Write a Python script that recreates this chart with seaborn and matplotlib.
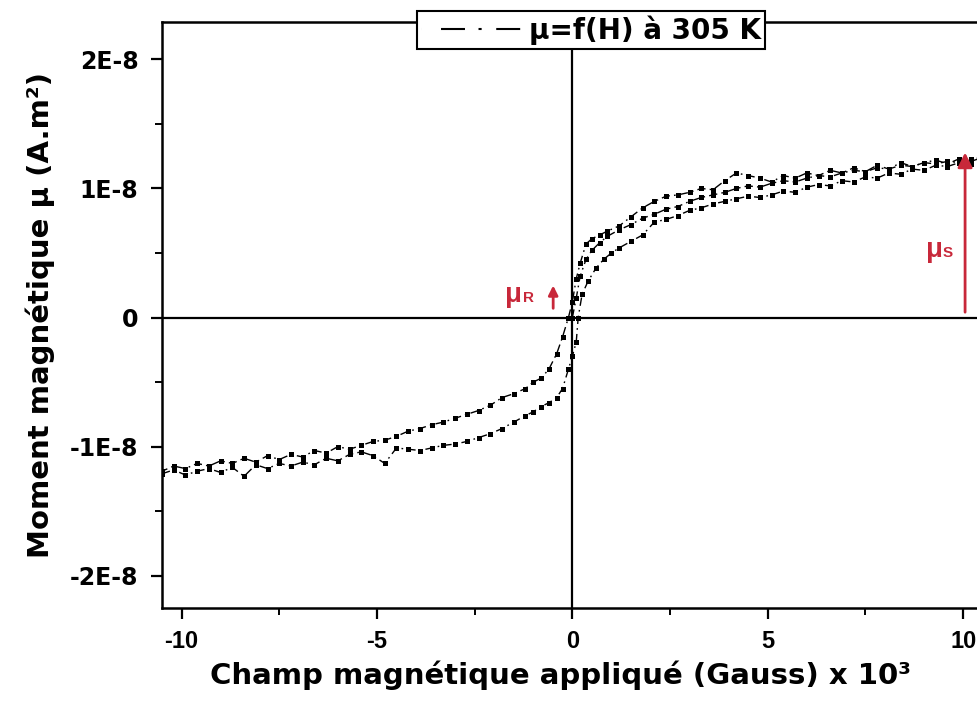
import numpy as np
import pandas as pd
import matplotlib
matplotlib.use('Agg')
import matplotlib.pyplot as plt
import seaborn as sns
from matplotlib.lines import Line2D
from matplotlib.ticker import FixedLocator, MultipleLocator


# branch going down from +H to -H (values of mu in units of 1E-8 A.m2)
desc_H = [10.5, 10.2, 9.9, 9.6, 9.3, 9.0, 8.7, 8.4, 8.1, 7.8,
          7.5, 7.2, 6.9, 6.6, 6.3, 6.0, 5.7, 5.4, 5.1, 4.8,
          4.5, 4.2, 3.9, 3.6, 3.3, 3.0, 2.7, 2.4, 2.1, 1.8,
          1.5, 1.2, 0.9, 0.7, 0.5, 0.35, 0.2, 0.1, 0.0, -0.1,
          -0.25, -0.4, -0.6, -0.8, -1.0, -1.2, -1.5, -1.8, -2.1, -2.4,
          -2.7, -3.0, -3.3, -3.6, -3.9, -4.2, -4.5, -4.8, -5.1, -5.4,
          -5.7, -6.0, -6.3, -6.6, -6.9, -7.2, -7.5, -7.8, -8.1, -8.4,
          -8.7, -9.0, -9.3, -9.6, -9.9, -10.2, -10.5]
desc_mu = [1.24, 1.21, 1.23, 1.19, 1.22, 1.20, 1.17, 1.20, 1.15, 1.18,
           1.13, 1.16, 1.12, 1.14, 1.10, 1.12, 1.08, 1.10, 1.05, 1.08,
           1.10, 1.12, 1.06, 0.99, 1.00, 0.97, 0.95, 0.94, 0.90, 0.85,
           0.78, 0.71, 0.67, 0.64, 0.61, 0.57, 0.42, 0.30, 0.12, 0.00,
           -0.15, -0.28, -0.40, -0.47, -0.50, -0.55, -0.59, -0.62, -0.68, -0.72,
           -0.75, -0.78, -0.81, -0.83, -0.86, -0.88, -0.92, -0.95, -0.96, -0.99,
           -1.02, -1.00, -1.05, -1.03, -1.08, -1.06, -1.10, -1.07, -1.12, -1.09,
           -1.13, -1.11, -1.15, -1.13, -1.17, -1.15, -1.19]

# branch going up from -H to +H
asc_H = [-10.5, -10.2, -9.9, -9.6, -9.3, -9.0, -8.7, -8.4, -8.1, -7.8,
         -7.5, -7.2, -6.9, -6.6, -6.3, -6.0, -5.7, -5.4, -5.1, -4.8,
         -4.5, -4.2, -3.9, -3.6, -3.3, -3.0, -2.7, -2.4, -2.1, -1.8,
         -1.5, -1.2, -1.0, -0.8, -0.6, -0.4, -0.25, -0.1, 0.0, 0.1,
         0.15, 0.25, 0.4, 0.6, 0.8, 1.0, 1.2, 1.5, 1.8, 2.1,
         2.4, 2.7, 3.0, 3.3, 3.6, 3.9, 4.2, 4.5, 4.8, 5.1,
         5.4, 5.7, 6.0, 6.3, 6.6, 6.9, 7.2, 7.5, 7.8, 8.1,
         8.4, 8.7, 9.0, 9.3, 9.6, 9.9, 10.2, 10.5]
asc_mu = [-1.21, -1.18, -1.22, -1.19, -1.17, -1.20, -1.16, -1.23, -1.14, -1.17,
          -1.13, -1.15, -1.12, -1.14, -1.09, -1.11, -1.06, -1.04, -1.07, -1.13,
          -1.01, -1.02, -1.03, -1.01, -0.99, -0.98, -0.96, -0.93, -0.90, -0.86,
          -0.81, -0.76, -0.73, -0.69, -0.66, -0.62, -0.55, -0.40, -0.30, -0.19,
          0.00, 0.18, 0.28, 0.38, 0.45, 0.50, 0.54, 0.59, 0.64, 0.74,
          0.76, 0.79, 0.83, 0.85, 0.88, 0.90, 0.92, 0.94, 0.93, 0.95,
          0.98, 0.97, 1.01, 1.03, 1.02, 1.06, 1.05, 1.09, 1.08, 1.12,
          1.11, 1.15, 1.14, 1.18, 1.17, 1.20, 1.19, 1.22]

# first magnetisation curve
virg_H = [0.0, 0.1, 0.2, 0.35, 0.5, 0.7, 0.9, 1.2, 1.5, 1.8,
          2.1, 2.4, 2.7, 3.0, 3.3, 3.6, 3.9, 4.2, 4.5, 4.8,
          5.1, 5.4, 5.7, 6.0, 6.3, 6.6, 6.9, 7.2, 7.5, 7.8,
          8.1, 8.4, 8.7, 9.0, 9.3, 9.6, 9.9, 10.2, 10.5]
virg_mu = [0.00, 0.15, 0.32, 0.45, 0.52, 0.58, 0.63, 0.68, 0.72, 0.77,
           0.80, 0.84, 0.86, 0.90, 0.93, 0.95, 0.97, 1.00, 1.02, 1.01,
           1.04, 1.06, 1.05, 1.08, 1.10, 1.09, 1.12, 1.14, 1.13, 1.16,
           1.15, 1.18, 1.17, 1.20, 1.19, 1.21, 1.20, 1.23, 1.24]

x_ticks = [-10, -5, 0, 5, 10]
y_ticks = [-2e-8, -1e-8, 0, 1e-8, 2e-8]
y_tick_labels = ['-2E-8', '-1E-8', '0', '1E-8', '2E-8']
mu_R = 0.27e-8
mu_S = 1.30e-8
series_label = 'μ=f(H) à 305 K'

RED = '#c8283a'
WIDE = ['DejaVu Sans']

sns.set_style('ticks')
plt.rcParams['font.family'] = ['Liberation Sans', 'DejaVu Sans']
plt.rcParams['font.weight'] = 'bold'
plt.rcParams['axes.labelweight'] = 'bold'
plt.rcParams['text.color'] = 'black'
plt.rcParams['axes.labelcolor'] = 'black'
plt.rcParams['xtick.color'] = 'black'
plt.rcParams['ytick.color'] = 'black'

fig = plt.figure(figsize=(9.77, 7.07), dpi=100)
ax = fig.add_axes([0.1658, 0.140, 0.868, 0.829])

dash = (0, (6, 3, 1.2, 3))
for H, mu in [(desc_H, desc_mu), (asc_H, asc_mu), (virg_H, virg_mu)]:
    df = pd.DataFrame({'H': H, 'mu': np.array(mu) * 1e-8})
    sns.lineplot(data=df, x='H', y='mu', sort=False, estimator=None, ax=ax,
                 color='black', lw=1.0, linestyle=dash, marker='s',
                 markersize=3.6, markeredgewidth=0, legend=False)

ax.axhline(0, color='black', lw=1.6, zorder=1)
ax.axvline(0, color='black', lw=1.6, zorder=1)

ax.set_xlim(-10.5, 11.2)
ax.set_ylim(-2.25e-8, 2.29e-8)
ax.xaxis.set_major_locator(FixedLocator(x_ticks))
ax.xaxis.set_minor_locator(MultipleLocator(2.5))
ax.yaxis.set_major_locator(FixedLocator(y_ticks))
ax.yaxis.set_minor_locator(MultipleLocator(0.5e-8))
ax.set_yticklabels(y_tick_labels, family=WIDE, fontsize=17)
ax.set_xticklabels([str(t) for t in x_ticks], fontsize=17)
ax.tick_params(axis='both', which='major', direction='out', length=8, width=1.6)
ax.tick_params(axis='both', which='minor', direction='out', length=5, width=1.4)
ax.tick_params(axis='x', pad=8)
ax.tick_params(axis='y', pad=9)
for side in ['left', 'bottom', 'top', 'right']:
    ax.spines[side].set_linewidth(1.8)
    ax.spines[side].set_color('black')

ax.set_xlabel('Champ magnétique appliqué (Gauss) x 10³', fontsize=21,
              family=WIDE)
ax.set_ylabel('Moment magnétique μ (A.m²)', fontsize=21, family=WIDE)
ax.xaxis.set_label_coords(0.47, -0.09)
ax.yaxis.set_label_coords(-0.126, 0.5)

# remanent and saturation moments
ax.annotate('', xy=(-0.49, mu_R), xytext=(-0.49, 0.05e-8),
            arrowprops=dict(arrowstyle='-|>', color=RED, lw=2, mutation_scale=14))
ax.text(-1.72, 0.12e-8, 'μ', color=RED, fontsize=20, fontweight='bold')
ax.text(-1.25, 0.12e-8, 'R', color=RED, fontsize=11, fontweight='bold')
ax.annotate('', xy=(10.05, mu_S), xytext=(10.05, 0.02e-8),
            arrowprops=dict(arrowstyle='-|>', color=RED, lw=2, mutation_scale=22))
ax.text(9.05, 0.47e-8, 'μ', color=RED, fontsize=20, fontweight='bold')
ax.text(9.47, 0.47e-8, 'S', color=RED, fontsize=11, fontweight='bold')

# dash pattern starts with a blank stretch so the handle sits away from the frame
handle = Line2D([], [], color='black', lw=1.5,
                linestyle=(0, (0.01, 9.6, 11.5, 6.5, 1.5, 7, 11.5, 50)))
leg = ax.legend([handle], [series_label], loc='center',
                bbox_to_anchor=(0.605, 0.957), bbox_transform=fig.transFigure,
                fancybox=False, framealpha=1, edgecolor='black',
                prop={'size': 20, 'weight': 'bold', 'family': WIDE},
                handlelength=3.57, borderpad=0.15, handletextpad=0.3)
leg.get_frame().set_linewidth(1.5)

fig.savefig('out.png', dpi=100)
